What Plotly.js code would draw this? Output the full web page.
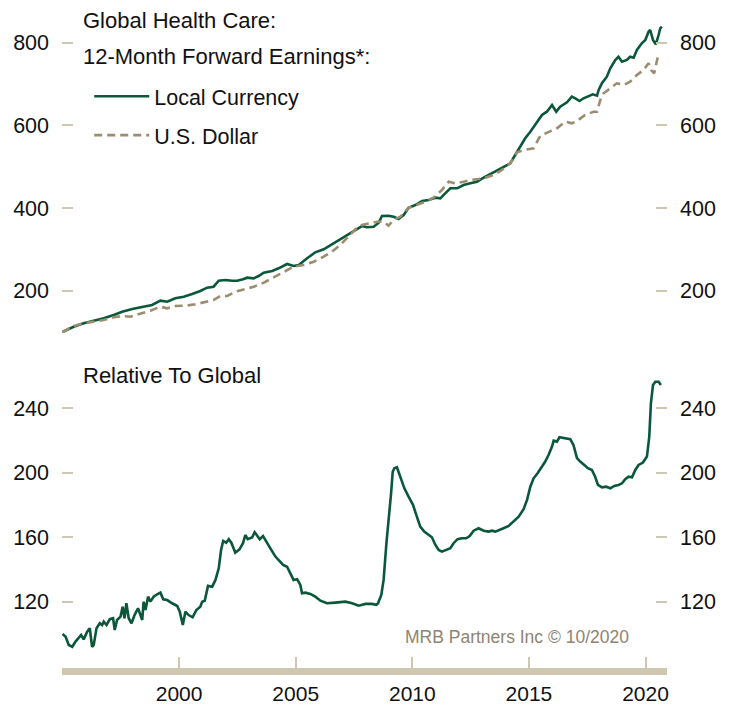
<!DOCTYPE html>
<html>
<head>
<meta charset="utf-8">
<script src="https://cdn.plot.ly/plotly-3.0.1.min.js"></script>
<style>
html,body{margin:0;padding:0;background:#fff;}
#chart{width:735px;height:709px;}
</style>
</head>
<body>
<div id="chart"></div>
<script>
// ---- Top panel: 12-month forward earnings (index) ----
const localYears = [1995.00,1995.20,1995.48,1995.91,1996.34,1996.77,1997.20,1997.56,1997.99,1998.42,1998.84,1999.20,1999.49,1999.84,2000.20,2000.56,2000.91,2001.20,2001.48,2001.70,2001.99,2002.27,2002.49,2002.74,2002.92,2003.20,2003.41,2003.63,2003.99,2004.27,2004.63,2004.91,2005.13,2005.49,2005.84,2006.20,2006.56,2006.91,2007.27,2007.63,2007.84,2008.06,2008.34,2008.56,2008.70,2008.98,2009.20,2009.41,2009.63,2009.84,2010.13,2010.42,2010.70,2010.99,2011.20,2011.41,2011.63,2011.92,2012.20,2012.49,2012.77,2013.06,2013.42,2013.70,2013.99,2014.20,2014.41,2014.63,2014.84,2015.06,2015.20,2015.34,2015.56,2015.77,2015.99,2016.17,2016.34,2016.63,2016.84,2016.99,2017.17,2017.34,2017.56,2017.74,2017.92,2017.99,2018.13,2018.34,2018.49,2018.70,2018.84,2018.99,2019.20,2019.34,2019.49,2019.63,2019.84,2019.99,2020.13,2020.20,2020.32,2020.44,2020.56,2020.63,2020.70];
const localCurrency = [100,104.9,112.9,121.1,126.7,133.2,141.2,149.2,155.7,161.3,165.4,175.8,173.4,181.6,185.5,192.0,199.3,207.3,209.7,224.2,225.9,224.2,224.2,227.6,231.5,230.0,235.6,243.5,247.7,254.2,264.6,259.8,262.2,278.4,292.9,300.2,313.0,324.4,336.5,351.0,356.5,353.4,354.8,364.5,380.7,381.5,379.0,373.5,383.2,400.8,407.3,417.0,419.4,425.0,423.5,435.6,447.7,447.7,455.7,459.8,463.7,473.4,484.0,492.0,500.0,508.2,528.3,550.8,568.7,584.7,596.8,608.9,625.1,633.1,649.3,633.1,645.2,655.8,669.4,665.5,659.0,665.5,671.0,675.2,671.8,685.6,701.8,717.7,738.1,758.2,766.1,754.0,758.2,766.1,763.7,782.3,798.5,806.5,826.6,830.7,806.5,796.1,818.6,834.8,838.7];

const usdYears = [1995.00,1995.13,1995.48,1995.91,1996.34,1996.77,1997.20,1997.56,1997.91,1998.34,1998.77,1999.20,1999.49,1999.84,2000.27,2000.70,2001.13,2001.48,2001.77,2002.06,2002.41,2002.77,2003.20,2003.63,2004.06,2004.48,2004.91,2005.34,2005.77,2006.20,2006.56,2006.91,2007.27,2007.56,2007.84,2008.20,2008.49,2008.77,2008.98,2009.20,2009.49,2009.84,2010.20,2010.56,2010.91,2011.27,2011.56,2011.84,2012.20,2012.49,2012.84,2013.13,2013.48,2013.84,2014.20,2014.49,2014.77,2015.20,2015.49,2015.84,2016.20,2016.56,2016.84,2017.06,2017.41,2017.77,2017.92,2018.06,2018.20,2018.49,2018.77,2019.06,2019.34,2019.63,2019.91,2020.13,2020.24,2020.37,2020.49,2020.56];
const usDollar = [100,104,114.6,121.1,125.0,129.1,135.6,138.8,137.1,143.6,151.6,161.3,157.4,163.0,163.7,167.1,173.4,177.5,187.2,187.2,197.6,203.4,209.7,219.4,232.4,246.0,258.1,262.2,270.2,282.3,294.4,310.6,330.6,348.5,358.9,363.1,366.9,366.9,357.3,371.1,379.0,400.8,407.3,415.3,425.0,443.6,463.7,459.8,463.7,467.8,470.2,473.4,479.9,492.0,508.2,534.8,540.4,544.5,575.0,584.7,592.9,608.9,605.0,610.6,625.1,633.1,633.1,661.4,677.6,689.7,701.8,697.7,705.6,721.8,733.9,750.1,733.9,725.9,762.2,775];

// ---- Bottom panel: relative to global ----
const relYears = [1995.00,1995.13,1995.27,1995.42,1995.56,1995.70,1995.80,1995.91,1996.06,1996.17,1996.27,1996.34,1996.46,1996.60,1996.70,1996.77,1996.89,1997.03,1997.17,1997.24,1997.34,1997.49,1997.58,1997.66,1997.74,1997.84,1997.96,1998.09,1998.24,1998.42,1998.48,1998.56,1998.67,1998.77,1998.91,1999.06,1999.20,1999.32,1999.49,1999.70,1999.92,2000.03,2000.16,2000.27,2000.41,2000.58,2000.74,2000.91,2000.99,2001.10,2001.24,2001.42,2001.56,2001.70,2001.80,2001.89,2002.02,2002.13,2002.24,2002.41,2002.59,2002.74,2002.84,2002.94,2003.13,2003.24,2003.37,2003.46,2003.60,2003.77,2003.94,2004.13,2004.31,2004.46,2004.63,2004.77,2004.91,2005.06,2005.20,2005.27,2005.41,2005.63,2005.84,2006.06,2006.34,2006.70,2007.13,2007.42,2007.70,2007.99,2008.27,2008.46,2008.53,2008.67,2008.77,2008.89,2008.98,2009.09,2009.16,2009.23,2009.34,2009.49,2009.66,2009.84,2010.03,2010.17,2010.34,2010.51,2010.70,2010.84,2010.99,2011.13,2011.27,2011.49,2011.63,2011.77,2011.94,2012.13,2012.31,2012.46,2012.63,2012.84,2013.06,2013.27,2013.42,2013.56,2013.70,2013.91,2014.13,2014.34,2014.56,2014.77,2014.92,2015.06,2015.20,2015.37,2015.52,2015.70,2015.84,2015.99,2016.06,2016.20,2016.31,2016.51,2016.77,2016.91,2017.06,2017.20,2017.37,2017.53,2017.70,2017.84,2017.96,2018.13,2018.31,2018.49,2018.66,2018.84,2018.99,2019.13,2019.27,2019.42,2019.56,2019.70,2019.89,2020.06,2020.16,2020.23,2020.32,2020.42,2020.56,2020.66];
const relativeToGlobal = [100,98.3,93.1,92.0,95.2,97.3,99.3,96.6,101.4,103.5,92.0,93.1,103.5,106.6,105.5,107.6,105.5,109.1,109.7,102.4,108.6,110.7,116.9,109.7,119.0,109.7,106.6,111.7,115.9,108.6,120.0,114.8,123.1,120.0,123.1,124.6,125.6,121.5,121.0,119.0,117.3,113.8,105.5,113.8,111.7,110.3,114.8,116.9,120.0,120.6,129.8,129.3,133.5,140.7,152.1,157.7,156.6,158.8,156.6,150.4,152.5,156.3,161.4,158.8,159.8,163.1,160.4,158.8,160.8,156.3,152.5,148.0,144.8,142.8,141.7,138.0,133.5,133.9,130.4,125.2,125.6,124.8,123.1,120.6,119.0,119.4,120.0,119.0,117.5,118.6,118.6,118.0,119.0,124.2,133.5,156.3,168.7,187.3,200.7,202.9,203.5,197.6,190.4,185.2,180.1,173.9,166.6,163.5,161.4,160.0,155.2,152.1,151.1,152.1,153.2,156.3,158.8,159.4,159.4,160.8,164.1,165.6,164.1,163.5,164.1,163.5,164.5,165.6,167.0,169.7,172.8,177.4,183.2,191.4,196.6,199.8,202.9,207.0,211.1,216.3,220.0,219.4,222.1,221.7,220.9,217.3,209.1,207.0,204.9,202.9,201.8,197.6,192.5,191.0,191.4,190.4,191.9,192.5,193.5,196.0,197.6,197.2,201.8,204.9,206.4,210.1,222.5,243.2,254.6,256.6,256.6,254.6];

// ---- Axis ticks ----
const xTickVals = [1995,2000,2005,2010,2015,2020];
const xTickText = ['','2000','2005','2010','2015','2020'];
const topTickVals = [200,400,600,800];
const bottomTickVals = [120,160,200,240];

const GREEN = '#0a573a';
const TAN_LINE = '#9b8d6f';
const AXIS_TAN = '#d0c7b2';
const FONT = 'Liberation Sans, Arial, sans-serif';
const TOP_RANGE = [68.6, 867];
const BOTTOM_RANGE = [78.8, 270.1];

const traces = [
  {x: localYears, y: localCurrency, type: 'scatter', mode: 'lines', name: 'Local Currency',
   xaxis: 'x', yaxis: 'y', legendgroup: 'a', line: {color: GREEN, width: 2.6}},
  {x: usdYears, y: usDollar, type: 'scatter', mode: 'lines', name: 'U.S. Dollar',
   xaxis: 'x', yaxis: 'y', legendgroup: 'b', line: {color: TAN_LINE, width: 2.6, dash: '8px,5px'}},
  {x: relYears, y: relativeToGlobal, type: 'scatter', mode: 'lines', name: 'Relative To Global',
   xaxis: 'x', yaxis: 'y2', showlegend: false, line: {color: GREEN, width: 2.6}},
  // invisible carriers so the right-hand mirror axes are drawn
  {x: localYears, y: localCurrency, type: 'scatter', mode: 'lines', xaxis: 'x', yaxis: 'y3',
   showlegend: false, hoverinfo: 'skip', opacity: 0, line: {width: 0}},
  {x: relYears, y: relativeToGlobal, type: 'scatter', mode: 'lines', xaxis: 'x', yaxis: 'y4',
   showlegend: false, hoverinfo: 'skip', opacity: 0, line: {width: 0}}
];

const yCommon = {
  showgrid: false, zeroline: false, showline: false,
  ticks: 'inside', ticklen: 11, tickwidth: 2, tickcolor: AXIS_TAN,
  tickfont: {family: FONT, size: 21.5, color: '#111'},
  ticklabelstandoff: 12, fixedrange: true
};

const layout = {
  width: 735, height: 709,
  margin: {l: 62, r: 68, t: 15, b: 41},
  paper_bgcolor: '#fff', plot_bgcolor: '#fff',
  showlegend: true,
  legend: {
    x: 0.045, y: 0.907, xanchor: 'left', yanchor: 'top',
    font: {family: FONT, size: 21.5, color: '#111'},
    bgcolor: 'rgba(0,0,0,0)', itemwidth: 55, traceorder: 'grouped', tracegroupgap: 8
  },
  xaxis: {
    anchor: 'y2', range: [1994.98, 2020.92],
    tickvals: xTickVals, ticktext: xTickText,
    showgrid: false, zeroline: false,
    showline: true, linecolor: AXIS_TAN, linewidth: 7,
    ticks: 'inside', ticklen: 11, tickwidth: 2, tickcolor: AXIS_TAN,
    tickfont: {family: FONT, size: 21, color: '#111'},
    ticklabelstandoff: 1, fixedrange: true
  },
  yaxis: Object.assign({}, yCommon, {domain: [0.4946, 1], range: TOP_RANGE, tickvals: topTickVals, anchor: 'x', side: 'left'}),
  yaxis2: Object.assign({}, yCommon, {domain: [0, 0.4717], range: BOTTOM_RANGE, tickvals: bottomTickVals, anchor: 'x', side: 'left'}),
  yaxis3: Object.assign({}, yCommon, {overlaying: 'y', side: 'right', anchor: 'x', range: TOP_RANGE, tickvals: topTickVals}),
  yaxis4: Object.assign({}, yCommon, {overlaying: 'y2', side: 'right', anchor: 'x', range: BOTTOM_RANGE, tickvals: bottomTickVals}),
  annotations: [
    {xref: 'paper', yref: 'paper', x: 0.031, y: 0.9923, xanchor: 'left', yanchor: 'middle', showarrow: false,
     text: 'Global Health Care:', font: {family: FONT, size: 22, color: '#111'}},
    {xref: 'paper', yref: 'paper', x: 0.031, y: 0.9357, xanchor: 'left', yanchor: 'middle', showarrow: false,
     text: '12-Month Forward Earnings*:', font: {family: FONT, size: 22, color: '#111'}},
    {xref: 'paper', yref: 'paper', x: 0.031, y: 0.4472, xanchor: 'left', yanchor: 'middle', showarrow: false,
     text: 'Relative To Global', font: {family: FONT, size: 22, color: '#111'}},
    {xref: 'paper', yref: 'paper', x: 0.94, y: 0.0475, xanchor: 'right', yanchor: 'middle', showarrow: false,
     text: 'MRB Partners Inc © 10/2020', font: {family: FONT, size: 17.5, color: '#8e8470'}}
  ]
};

Plotly.newPlot('chart', traces, layout, {displayModeBar: false, staticPlot: true});
</script>
</body>
</html>
